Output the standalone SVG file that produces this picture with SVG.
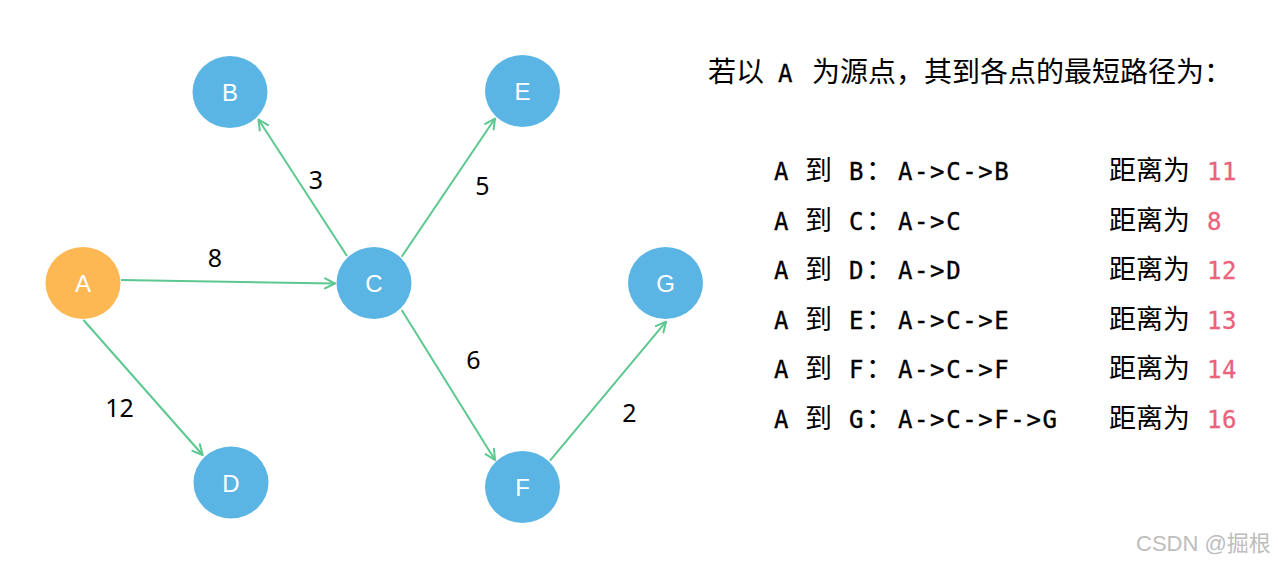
<svg xmlns="http://www.w3.org/2000/svg" width="1278" height="565" viewBox="0 0 1278 565">
<style>
.node{fill:#5bb5e4}
.src{fill:#fdb853}
.nl{font-family:"Liberation Sans",Arial,sans-serif;font-size:24px;fill:#fff;text-anchor:middle}
.edge{stroke:#5cc88f;stroke-width:2;fill:none}
.el{font-family:"Noto Sans","Open Sans",sans-serif;font-size:25px;fill:#000;text-anchor:middle}
.cjk{font-family:"Noto Sans CJK SC",sans-serif;fill:#000}
.mono{font-family:"DejaVu Sans Mono",monospace;font-size:24px;stroke:#000;stroke-width:0.35px}
.tA{font-family:"DejaVu Sans Mono",monospace;font-size:24px;stroke:#000;stroke-width:0.35px}
.path{letter-spacing:1.6px}
.num{font-family:"DejaVu Sans Mono",monospace;font-size:24px;letter-spacing:0.5px;fill:#e8637b;stroke:#e8637b;stroke-width:0.3px}
.wm{font-family:"Liberation Sans","Noto Sans CJK SC",sans-serif;font-size:22px;fill:#bdbdbd}
</style>
<defs>
<marker id="arr" markerUnits="userSpaceOnUse" markerWidth="14" markerHeight="14" refX="11" refY="6" orient="auto" viewBox="0 0 14 12">
<path d="M1,1 L11,6 L1,11" fill="none" stroke="#5cc88f" stroke-width="2" stroke-linecap="round" stroke-linejoin="round"/>
</marker>
</defs>
<rect width="1278" height="565" fill="#fff"/>
<g id="connectors">
<line class="edge" x1="121" y1="280" x2="335" y2="283.5" marker-end="url(#arr)"/>
<line class="edge" x1="347" y1="256" x2="258.5" y2="119.5" marker-end="url(#arr)"/>
<line class="edge" x1="401.7" y1="256.7" x2="495" y2="118.5" marker-end="url(#arr)"/>
<line class="edge" x1="83.5" y1="320" x2="202.7" y2="455" marker-end="url(#arr)"/>
<line class="edge" x1="401.7" y1="310" x2="495" y2="460" marker-end="url(#arr)"/>
<line class="edge" x1="550" y1="460.7" x2="666" y2="321.7" marker-end="url(#arr)"/>
<text class="el" x="215" y="267">8</text>
<text class="el" x="316" y="189">3</text>
<text class="el" x="482.5" y="195">5</text>
<text class="el" x="119.5" y="417">12</text>
<text class="el" x="473.5" y="369">6</text>
<text class="el" x="629.5" y="421.5">2</text>
</g>
<g id="node-A"><ellipse class="src" cx="83" cy="283" rx="37.5" ry="36"/><text class="nl" x="83" y="292">A</text></g>
<g id="node-B"><ellipse class="node" cx="230" cy="92" rx="37.5" ry="36"/><text class="nl" x="230" y="101">B</text></g>
<g id="node-C"><ellipse class="node" cx="374" cy="283" rx="37.5" ry="36"/><text class="nl" x="374" y="292">C</text></g>
<g id="node-D"><ellipse class="node" cx="231" cy="482.5" rx="37.5" ry="36"/><text class="nl" x="231" y="491.5">D</text></g>
<g id="node-E"><ellipse class="node" cx="522.5" cy="91" rx="37.5" ry="36"/><text class="nl" x="522.5" y="100">E</text></g>
<g id="node-F"><ellipse class="node" cx="522.5" cy="487" rx="37.5" ry="36"/><text class="nl" x="522.5" y="496">F</text></g>
<g id="node-G"><ellipse class="node" cx="665.5" cy="283" rx="37.5" ry="36"/><text class="nl" x="665.5" y="292">G</text></g>
<g id="summary">
<text class="cjk" font-size="28" y="81.5"><tspan x="708">若以 </tspan><tspan class="tA" x="778">A </tspan><tspan x="812">为源点，其到各点的最短路径为：</tspan></text>
<g class="cjk" font-size="27">
<text y="180"><tspan class="mono" x="774">A </tspan><tspan x="805">到 </tspan><tspan class="mono" x="849">B</tspan><tspan x="866">： </tspan><tspan class="mono path" x="898">A-&gt;C-&gt;B</tspan></text>
<text y="229.5"><tspan class="mono" x="774">A </tspan><tspan x="805">到 </tspan><tspan class="mono" x="849">C</tspan><tspan x="866">： </tspan><tspan class="mono path" x="898">A-&gt;C</tspan></text>
<text y="279"><tspan class="mono" x="774">A </tspan><tspan x="805">到 </tspan><tspan class="mono" x="849">D</tspan><tspan x="866">： </tspan><tspan class="mono path" x="898">A-&gt;D</tspan></text>
<text y="328.5"><tspan class="mono" x="774">A </tspan><tspan x="805">到 </tspan><tspan class="mono" x="849">E</tspan><tspan x="866">： </tspan><tspan class="mono path" x="898">A-&gt;C-&gt;E</tspan></text>
<text y="378"><tspan class="mono" x="774">A </tspan><tspan x="805">到 </tspan><tspan class="mono" x="849">F</tspan><tspan x="866">： </tspan><tspan class="mono path" x="898">A-&gt;C-&gt;F</tspan></text>
<text y="427.5"><tspan class="mono" x="774">A </tspan><tspan x="805">到 </tspan><tspan class="mono" x="849">G</tspan><tspan x="866">： </tspan><tspan class="mono path" x="898">A-&gt;C-&gt;F-&gt;G</tspan></text>
<text x="1109" y="180">距离为 <tspan class="num" x="1207">11</tspan></text>
<text x="1109" y="229.5">距离为 <tspan class="num" x="1207">8</tspan></text>
<text x="1109" y="279">距离为 <tspan class="num" x="1207">12</tspan></text>
<text x="1109" y="328.5">距离为 <tspan class="num" x="1207">13</tspan></text>
<text x="1109" y="378">距离为 <tspan class="num" x="1207">14</tspan></text>
<text x="1109" y="427.5">距离为 <tspan class="num" x="1207">16</tspan></text>
</g>
</g>
<text class="wm" x="1136" y="551">CSDN @掘根</text>
</svg>
